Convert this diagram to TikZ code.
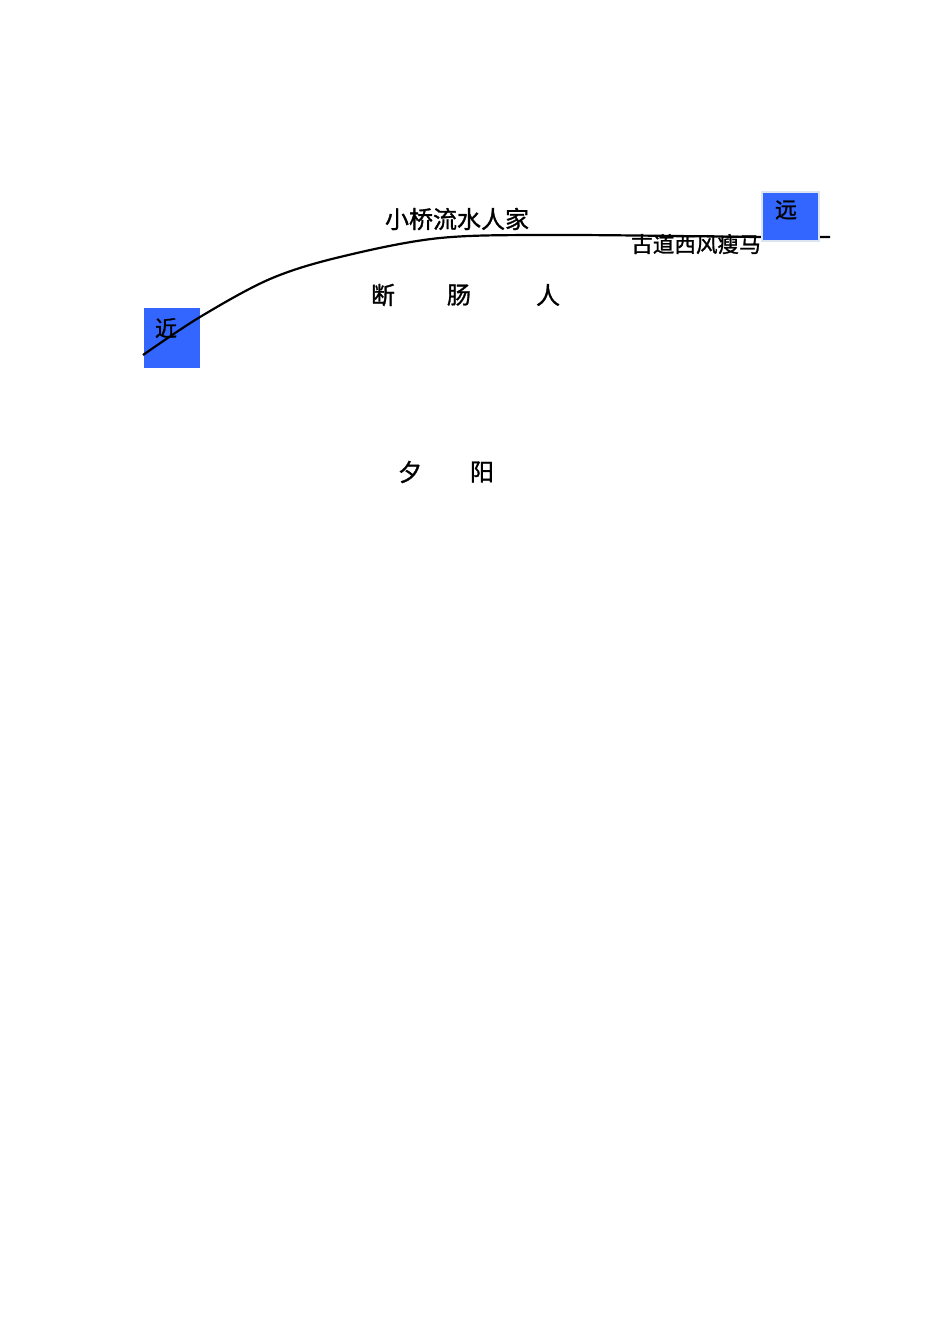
\documentclass[tikz,border=0pt]{standalone}
\usepackage{fontspec}
\newfontfamily\cjk[FakeBold=1.2]{Noto Sans CJK SC}
\definecolor{boxblue}{HTML}{3366FF}
\definecolor{boxedge}{HTML}{DCE4F2}
\begin{document}
\begin{tikzpicture}[x=0.5pt,y=-0.5pt,
  bluebox/.style={fill=boxblue,inner sep=0pt,anchor=north west},
  word/.style={font=\cjk\fontsize{12pt}{14pt}\selectfont,inner sep=0pt},
  small/.style={font=\cjk\fontsize{11pt}{13pt}\selectfont,inner sep=0pt}]
\useasboundingbox[fill=white] (0,0) rectangle (950,1344);
\node[bluebox,minimum width=28pt,minimum height=30pt] (near) at (144,308) {};
\node[small] (nearlbl) at (166,328) {近};
\coordinate (start) at (143,355);
\coordinate (finish) at (830,237);
\draw[line width=1.1pt] plot[smooth,tension=0.55] coordinates {(start) (200,317) (270,279) (340,257) (440,238) (560,235) (760,237) (finish)};
\node[bluebox,draw=boxedge,line width=1pt,minimum width=28.5pt,minimum height=24.5pt] (far) at (761,191) {};
\node[small] (farlbl) at (786,210) {远};
\node[word] (t1) at (457,219) {小桥流水人家};
\node[word,font=\cjk\fontsize{10.8pt}{13pt}\selectfont] (t2) at (696,244) {古道西风瘦马};
\node[word] (d1) at (383,295) {断};
\node[word] (d2) at (459,295) {肠};
\node[word] (d3) at (548,295) {人};
\node[word] (x1) at (410,472) {夕};
\node[word] (x2) at (482,472) {阳};
\end{tikzpicture}
\end{document}
